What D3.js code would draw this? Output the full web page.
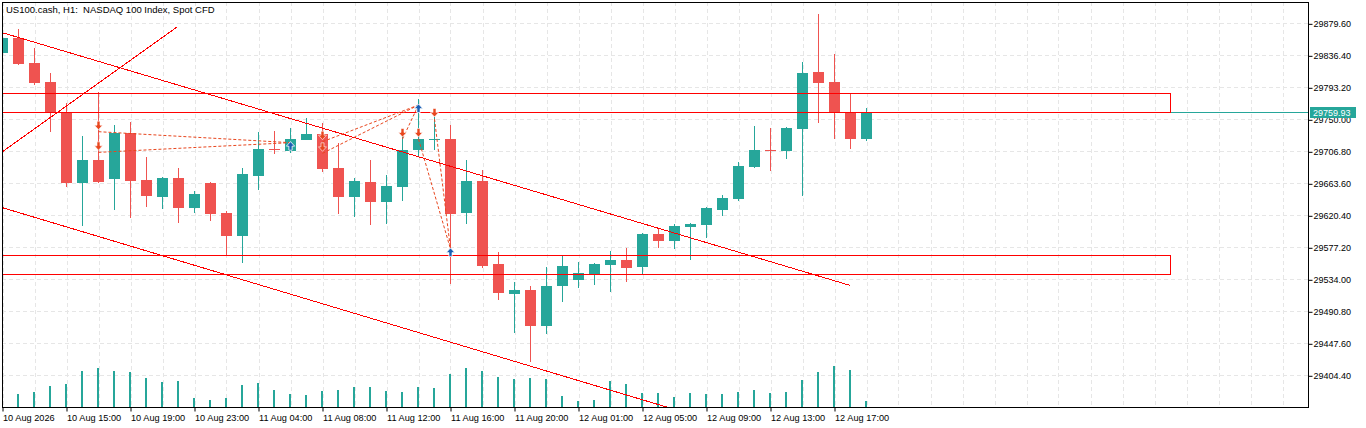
<!DOCTYPE html>
<html>
<head>
<meta charset="utf-8">
<script src="https://cdn.jsdelivr.net/npm/d3@7"></script>
<style>
body { margin: 0; background: #fff; }
svg { display: block; font-family: "Liberation Sans", Arial, sans-serif; }
</style>
</head>
<body>
<div id="chart"></div>
<script>
// US100.cash H1 bars, index 0 = 10 Aug 2026 11:00
const opens = [29839.9,29860.2,29826.4,29800.8,29759.2,29664.4,29695.1,29669.8,29731.9,29668.5,
  29645.5,29671.2,29630.7,29664.4,29623.9,29592.9,29673.9,29709.9,29707.6,29722.5,
  29730.2,29684.3,29645.5,29665.4,29638.8,29659.0,29709.0,29723.0,29723.4,29623.9,
  29666.7,29554.7,29514.6,29519.6,29471.4,29525.4,29533.5,29541.2,29553.7,29560.1,
  29551.0,29595.2,29586.1,29605.0,29607.7,29628.0,29642.8,29686.0,29708.6,29707.6,
  29737.3,29813.9,29800.4,29759.9,29723.8];
const highs = [29862.5,29871.9,29845.9,29812.9,29771.6,29727.5,29786.5,29742.3,29746.4,29699.1,
  29672.1,29684.7,29653.6,29665.8,29626.6,29684.3,29732.9,29734.2,29738.3,29751.8,
  29745.0,29718.0,29670.8,29695.1,29674.8,29732.9,29777.4,29753.1,29742.3,29695.1,
  29681.6,29570.9,29530.4,29525.0,29550.6,29565.9,29557.4,29556.0,29572.2,29576.7,
  29596.0,29601.9,29608.7,29610.0,29631.0,29647.8,29692.4,29741.0,29738.3,29739.6,
  29827.4,29892.2,29838.2,29785.1,29765.3];
const lows = [29838.2,29823.3,29796.3,29733.3,29659.0,29606.4,29664.7,29628.0,29617.2,29632.0,
  29629.3,29610.4,29623.9,29613.1,29567.2,29556.4,29655.0,29702.8,29704.9,29722.5,
  29679.3,29622.6,29618.5,29607.7,29609.1,29640.1,29700.9,29709.0,29528.1,29609.1,
  29549.7,29506.5,29461.9,29422.8,29460.6,29503.8,29522.7,29526.7,29517.3,29530.8,
  29541.6,29576.7,29575.3,29560.5,29590.2,29619.9,29640.1,29684.7,29680.6,29696.8,
  29646.9,29745.4,29723.8,29710.3,29721.1];
const closes = [29859.8,29825.1,29799.4,29759.2,29664.4,29695.1,29665.8,29731.9,29667.1,29646.9,
  29671.2,29630.7,29649.6,29622.6,29592.9,29676.2,29709.5,29709.3,29723.4,29730.2,
  29682.9,29645.5,29666.7,29638.8,29660.0,29708.6,29723.4,29723.6,29622.6,29666.7,
  29552.4,29515.9,29519.6,29471.4,29525.0,29552.0,29542.5,29554.7,29560.1,29549.7,
  29595.2,29586.1,29606.0,29608.7,29630.3,29643.8,29687.0,29708.6,29708.0,29738.3,
  29812.5,29799.4,29759.9,29723.8,29759.93];
const volumes = [1200,1270,1470,2070,2270,3570,3870,3570,3470,2870,
  2470,2570,870,670,870,2170,2370,1670,1270,1170,
  1570,1670,1970,1970,1570,1470,1970,1870,3270,3870,
  3570,2970,2770,2870,2770,1070,570,670,2570,2270,
  1370,1370,970,1370,1270,1270,1470,1670,1370,1470,
  2670,3470,4070,3670,570];

const timeTickBars = [0,4,8,12,16,20,24,28,32,36,40,44,48,52];
const timeTickLabels = ["10 Aug 2026","10 Aug 15:00","10 Aug 19:00","10 Aug 23:00","11 Aug 04:00",
  "11 Aug 08:00","11 Aug 12:00","11 Aug 16:00","11 Aug 20:00","12 Aug 01:00","12 Aug 05:00",
  "12 Aug 09:00","12 Aug 13:00","12 Aug 17:00"];
const priceTicks = [29404.40,29447.60,29490.80,29534.00,29577.20,29620.40,29663.60,29706.80,
  29750.00,29793.20,29836.40,29879.60];

const lastPrice = 29759.93;

// support / resistance zones
const zoneFrom = [-1, -1];
const zoneTo = [73, 73];
const zoneTop = [29785.1, 29566.4];
const zoneBottom = [29759.4, 29540.8];

// trend lines: [bar1, price1, bar2, price2]
const trendLines = [
  [0, 29866.9, 53, 29525.6],
  [0, 29630.7, 41.5, 29361.6],
  [0, 29706.3, 10.93, 29875.0]
];

// closed sell trades: entry bar/price, exit bar/price
const tradeEntryBar = [6, 6, 20, 20, 25, 26, 27];
const tradeEntryPrice = [29733.3, 29705.4, 29719.8, 29704.1, 29723.4, 29723.4, 29750.4];
const tradeExitBar = [18, 18, 26, 26, 26, 28, 28];
const tradeExitPrice = [29718.5, 29718.5, 29769.3, 29769.3, 29769.3, 29574.9, 29574.9];

const W = 1366, H = 428;
const plotLeft = 2, plotRight = 1308, plotTop = 2, plotBottom = 407;
const bull = "#26a69a", bear = "#ef5350";

const svg = d3.select("#chart").append("svg")
  .attr("width", W)
  .attr("height", H);

const x = d3.scaleLinear().domain([0, 81.6]).range([2.5, 1308.1]);
const y = d3.scaleLinear().domain([29361.6, 29908.4]).range([plotBottom, plotTop]);
const yVol = d3.scaleLinear().domain([0, 10000]).range([plotBottom, plotBottom - 100]);

svg.append("defs").append("clipPath").attr("id", "plot")
  .append("rect").attr("x", plotLeft).attr("y", plotTop)
  .attr("width", plotRight - plotLeft).attr("height", plotBottom - plotTop);

const plot = svg.append("g").attr("clip-path", "url(#plot)");

// grid
const gridBars = d3.range(0, 82, 2);
plot.selectAll(".vgrid").data(gridBars).enter().append("line")
  .attr("x1", d => Math.round(x(d)) + 0.5).attr("x2", d => Math.round(x(d)) + 0.5)
  .attr("y1", plotTop).attr("y2", plotBottom)
  .attr("stroke", "#e6e6e6").attr("stroke-dasharray", "4,3");
plot.selectAll(".hgrid").data(priceTicks).enter().append("line")
  .attr("x1", plotLeft).attr("x2", plotRight)
  .attr("y1", d => Math.round(y(d)) + 0.5).attr("y2", d => Math.round(y(d)) + 0.5)
  .attr("stroke", "#e6e6e6").attr("stroke-dasharray", "4,3");

// volumes
plot.selectAll(".vol").data(volumes).enter().append("rect")
  .attr("x", (d, i) => Math.floor(x(i)) - 1)
  .attr("width", 2)
  .attr("y", d => Math.round(yVol(d)))
  .attr("height", d => plotBottom - Math.round(yVol(d)))
  .attr("fill", bull);

// last price line
plot.append("line")
  .attr("x1", plotLeft).attr("x2", plotRight)
  .attr("y1", Math.round(y(lastPrice)) + 0.5).attr("y2", Math.round(y(lastPrice)) + 0.5)
  .attr("stroke", bull).attr("stroke-width", 1);

// candles
const candles = plot.selectAll(".candle").data(opens).enter().append("g");
candles.append("line")
  .attr("x1", (d, i) => x(i)).attr("x2", (d, i) => x(i))
  .attr("y1", (d, i) => Math.round(y(highs[i])))
  .attr("y2", (d, i) => Math.round(y(lows[i])))
  .attr("stroke", (d, i) => closes[i] >= d ? bull : bear)
  .attr("stroke-width", 1);
candles.append("rect")
  .attr("x", (d, i) => x(i) - 5.5)
  .attr("width", 11)
  .attr("y", (d, i) => Math.round(y(Math.max(d, closes[i]))))
  .attr("height", (d, i) => Math.max(1, Math.round(y(Math.min(d, closes[i]))) - Math.round(y(Math.max(d, closes[i])))))
  .attr("fill", (d, i) => closes[i] >= d ? bull : bear);

// zones
plot.selectAll(".zone").data(zoneTop).enter().append("rect")
  .attr("x", (d, i) => x(zoneFrom[i]))
  .attr("width", (d, i) => x(zoneTo[i]) - x(zoneFrom[i]))
  .attr("y", d => Math.round(y(d)) + 0.5)
  .attr("height", (d, i) => Math.round(y(zoneBottom[i])) - Math.round(y(d)))
  .attr("fill", "none").attr("stroke", "#ff0000").attr("stroke-width", 1);

// trend lines
plot.selectAll(".trend").data(trendLines).enter().append("line")
  .attr("x1", d => x(d[0])).attr("y1", d => y(d[1]))
  .attr("x2", d => x(d[2])).attr("y2", d => y(d[3]))
  .attr("stroke", "#ff0000").attr("stroke-width", 1)
  .attr("shape-rendering", "crispEdges");

// trades
const tradeColor = "#e8461e", exitColor = "#1a5fb4";
plot.selectAll(".trade").data(tradeEntryBar).enter().append("line")
  .attr("x1", d => x(d)).attr("y1", (d, i) => y(tradeEntryPrice[i]))
  .attr("x2", (d, i) => x(tradeExitBar[i])).attr("y2", (d, i) => y(tradeExitPrice[i]))
  .attr("stroke", tradeColor).attr("stroke-width", 1)
  .attr("stroke-dasharray", "3,2");

const downArrow = "M-1.5,-4.5H1.5V-0.5H4L0,4L-4,-0.5H-1.5Z";
const upArrow = "M-1.5,4.5H1.5V0.5H4L0,-4L-4,0.5H-1.5Z";
plot.selectAll(".entry").data(tradeEntryBar).enter().append("path")
  .attr("d", downArrow)
  .attr("transform", (d, i) => `translate(${x(d)},${y(tradeEntryPrice[i]) - 6})`)
  .attr("fill", tradeColor).attr("stroke", "#fff").attr("stroke-width", 0.6);
plot.selectAll(".exit").data(tradeExitBar).enter().append("path")
  .attr("d", upArrow)
  .attr("transform", (d, i) => `translate(${x(d)},${y(tradeExitPrice[i]) + 3})`)
  .attr("fill", exitColor).attr("stroke", "#fff").attr("stroke-width", 0.6);

// frame
svg.append("rect")
  .attr("x", plotLeft + 0.5).attr("y", plotTop + 0.5)
  .attr("width", plotRight - plotLeft).attr("height", plotBottom - plotTop)
  .attr("fill", "none").attr("stroke", "#000");

// axes
const yAxis = svg.append("g")
  .attr("transform", `translate(${plotRight + 0.5},0.5)`)
  .call(d3.axisRight(y).tickValues(priceTicks).tickFormat(d => d.toFixed(2)).tickSize(4).tickPadding(1));
yAxis.select(".domain").remove();
yAxis.selectAll("text").attr("font-size", "9px").attr("fill", "#000")
  .attr("font-family", "'Liberation Sans', Arial, sans-serif");
yAxis.selectAll("line").attr("stroke", "#000");

const xAxis = svg.append("g")
  .attr("transform", `translate(0,${plotBottom + 0.5})`)
  .call(d3.axisBottom(x).tickValues(timeTickBars).tickFormat((d, i) => timeTickLabels[i]).tickSize(4).tickPadding(2.5));
xAxis.select(".domain").remove();
xAxis.selectAll("text").attr("font-size", "9.2px").attr("fill", "#000")
  .attr("text-anchor", "start").attr("dx", "0")
  .attr("font-family", "'Liberation Sans', Arial, sans-serif");
xAxis.selectAll("line").attr("stroke", "#000");

// last price tag
const tagY = Math.round(y(lastPrice));
svg.append("rect")
  .attr("x", plotRight + 2).attr("y", tagY - 5)
  .attr("width", 46).attr("height", 11)
  .attr("fill", bull);
svg.append("text")
  .attr("x", plotRight + 5).attr("y", tagY + 4)
  .attr("font-size", "9px").attr("fill", "#fff")
  .text(lastPrice.toFixed(2));

// title
svg.append("text")
  .attr("x", 6).attr("y", 13)
  .attr("font-size", "9.5px").attr("fill", "#000")
  .attr("xml:space", "preserve")
  .text("US100.cash, H1:  NASDAQ 100 Index, Spot CFD");
</script>
</body>
</html>
